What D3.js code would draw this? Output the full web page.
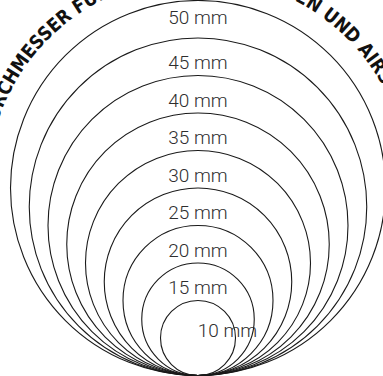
<!DOCTYPE html>
<html><head><meta charset="utf-8">
<script src="https://cdn.jsdelivr.net/npm/d3@7"></script>
<style>html,body{margin:0;padding:0;background:#fff;overflow:hidden}</style>
</head><body>
<svg id="chart" width="383" height="376"></svg>
<script>
const diameters = [50, 45, 40, 35, 30, 25, 20, 15, 10];
const labels = ["50 mm", "45 mm", "40 mm", "35 mm", "30 mm", "25 mm", "20 mm", "15 mm", "10 mm"];
const title = "DURCHMESSER FÜR BUTTONS, MAGNETEN UND AIRSOFT";

const W = 383, H = 376;
const cx = 198, bottom = 375.5;
const svg = d3.select("#chart");

// diameter in mm -> pixels
const size = d3.scaleLinear().domain([0, 50]).range([0, 375]);

const g = svg.append("g");
g.selectAll("circle").data(diameters).join("circle")
  .attr("cx", cx)
  .attr("cy", d => bottom - size(d) / 2)
  .attr("r", d => size(d) / 2)
  .attr("fill", "none")
  .attr("stroke", "#1a1a1a")
  .attr("stroke-width", 1.1);

g.selectAll("text.lbl").data(diameters).join("text")
  .attr("class", "lbl")
  .attr("x", d => cx + (d === 10 ? 29.5 : 0))
  .attr("y", d => bottom - size(d) + (d === 50 ? 23 : d === 10 ? 36.5 : 31))
  .attr("text-anchor", "middle")
  .attr("font-family", "Roboto, 'Open Sans', sans-serif")
  .attr("font-weight", 300)
  .attr("font-size", 19)
  .attr("fill", "#2e2e2e")
  .text((d, i) => labels[i]);

// curved title along outer arc
const tcy = bottom - size(50) / 2;
const R = 211;
const deg = Math.PI / 180;
const a0 = -120 * deg, a1 = 120 * deg;
const p = d3.path();
p.moveTo(cx + R * Math.sin(a0), tcy - R * Math.cos(a0));
p.arc(cx, tcy, R, a0 - Math.PI / 2, a1 - Math.PI / 2, false);
svg.append("defs").append("path").attr("id", "tp").attr("d", p.toString());
svg.append("text")
  .attr("font-family", "'DejaVu Sans', sans-serif")
  .attr("font-stretch", "condensed")
  .attr("font-weight", 700)
  .attr("font-size", 19)
  .attr("fill", "#111")
  .append("textPath")
  .attr("href", "#tp")
  .attr("startOffset", (120 - 75.5) * deg * R)
  .attr("textLength", 146.5 * deg * R)
  .attr("lengthAdjust", "spacingAndGlyphs")
  .text(title);
</script>
</body></html>
